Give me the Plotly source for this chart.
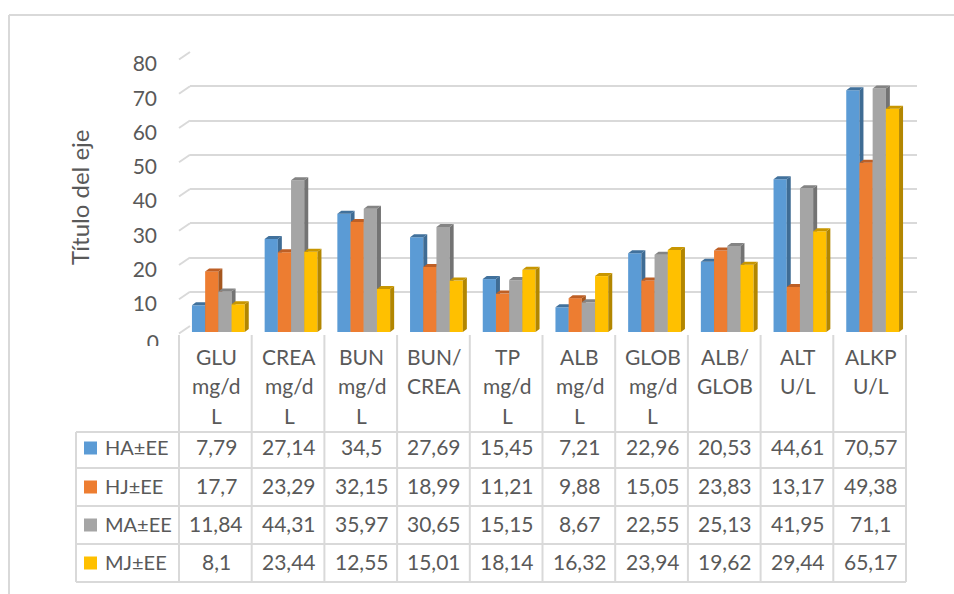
import plotly.graph_objects as go

categories = ["GLU\nmg/d\nL", "CREA\nmg/d\nL", "BUN\nmg/d\nL", "BUN/\nCREA", "TP\nmg/d\nL",
              "ALB\nmg/d\nL", "GLOB\nmg/d\nL", "ALB/\nGLOB", "ALT\nU/L", "ALKP\nU/L"]
series_names = ["HA±EE", "HJ±EE", "MA±EE", "MJ±EE"]
ha = [7.79, 27.14, 34.5, 27.69, 15.45, 7.21, 22.96, 20.53, 44.61, 70.57]
hj = [17.7, 23.29, 32.15, 18.99, 11.21, 9.88, 15.05, 23.83, 13.17, 49.38]
ma = [11.84, 44.31, 35.97, 30.65, 15.15, 8.67, 22.55, 25.13, 41.95, 71.1]
mj = [8.1, 23.44, 12.55, 15.01, 18.14, 16.32, 23.94, 19.62, 29.44, 65.17]
series_values = [ha, hj, ma, mj]
y_ticks = [10, 20, 30, 40, 50, 60, 70, 80]
axis_title = "Título del eje"

front_colors = ["#5B9BD5", "#ED7D31", "#A5A5A5", "#FFC000"]
side_colors = ["#3F6C94", "#A5571F", "#737373", "#B28600"]
top_colors = ["#41719C", "#BE5F25", "#848484", "#C89600"]
TEXT = "#595959"
LINE = "#D9D9D9"
FONT = "Lato"
FS = 21

W, H = 954, 594


def px(x):
    return x / W


def py(y):
    return 1 - y / H


n = len(categories)
col_left, col_w = 179.0, 72.7
bar_w = 13.2 / col_w
dx = 4 / col_w
dy = 3 / (274 / 80)

fig = go.Figure()

# back wall grid axes
fig.add_trace(go.Scatter(x=[None], y=[None], xaxis="x", yaxis="y", showlegend=False))

for s, vals in enumerate(series_values):
    ax = s + 2
    xa, ya = f"x{ax}", f"y{ax}"
    fig.add_trace(go.Bar(x=list(range(n)), y=vals, width=bar_w, offset=(s - 2) * bar_w,
                         marker=dict(color=front_colors[s], line=dict(width=0)),
                         name=series_names[s], xaxis=xa, yaxis=ya, showlegend=False))
    tx, ty, sx, sy = [], [], [], []
    for i, v in enumerate(vals):
        x0 = i + (s - 2) * bar_w
        x1 = x0 + bar_w
        tx += [x0, x1, x1 + dx, x0 + dx, x0, None]
        ty += [v, v, v + dy, v + dy, v, None]
        sx += [x1, x1, x1 + dx, x1 + dx, x1, None]
        sy += [0, v, v + dy, dy, 0, None]
    fig.add_trace(go.Scatter(x=sx, y=sy, fill="toself", mode="none", fillcolor=side_colors[s],
                             xaxis=xa, yaxis=ya, showlegend=False, hoverinfo="skip"))
    fig.add_trace(go.Scatter(x=tx, y=ty, fill="toself", mode="none", fillcolor=top_colors[s],
                             xaxis=xa, yaxis=ya, showlegend=False, hoverinfo="skip"))

layout = dict(
    width=W, height=H, margin=dict(l=0, r=0, t=0, b=0, autoexpand=False),
    paper_bgcolor="white", plot_bgcolor="rgba(0,0,0,0)", barmode="overlay", showlegend=False,
    font=dict(family=FONT, size=FS, color=TEXT),
    xaxis=dict(domain=[px(190), px(917)], range=[0, 1], showticklabels=False, showgrid=False,
               zeroline=False, ticks=""),
    yaxis=dict(domain=[py(326), py(52)], range=[0, 80], tickmode="array", tickvals=y_ticks + [0],
               ticktext=[str(t) for t in y_ticks] + [""], showgrid=True, gridcolor=LINE, gridwidth=2,
               zeroline=False, ticks="", ticklabelstandoff=32, ticklabelshift=12,
               tickfont=dict(family=FONT, size=FS, color=TEXT)),
)
for s in range(4):
    ax = s + 2
    xd = dict(range=[-0.5, n - 0.5], showticklabels=False, showgrid=False, zeroline=False, ticks="")
    yd = dict(range=[0, 80], showgrid=False, zeroline=False, ticks="", showticklabels=False)
    if s == 0:
        xd["domain"] = [px(182), px(909)]
        yd["domain"] = [py(332), py(58)]
        yd.update(showticklabels=True, tickmode="array", tickvals=[0], ticktext=["0"],
                  ticklabelstandoff=22, ticklabelshift=11,
                  tickfont=dict(family=FONT, size=FS, color=TEXT))
    else:
        xd.update(overlaying="x2", matches="x2")
        yd.update(overlaying="y2", matches="y2")
    xd["anchor"] = f"y{ax}"
    yd["anchor"] = f"x{ax}"
    layout[f"xaxis{ax}"] = xd
    layout[f"yaxis{ax}"] = yd

shapes = []


def line(x0, y0, x1, y1, width=2, color=LINE, layer="below"):
    shapes.append(dict(type="line", xref="paper", yref="paper", x0=px(x0), y0=py(y0), x1=px(x1), y1=py(y1),
                       line=dict(color=color, width=width), layer=layer))


# outer frame
line(9, 15, 954, 15)
line(9, 15, 9, 594)

# wall stubs joining the axis to the back wall
for t in [0] + y_ticks:
    yb = 326 - t * 274 / 80
    line(179, yb + 7.5, 190, yb)

# table grid
col_x = [col_left + col_w * i for i in range(n + 1)]
row_y = [432, 468, 506, 544, 582]
for x in col_x:
    line(x, 335, x, 582)
line(76, 432, 76, 582)
for y in row_y:
    line(76, y, col_x[-1], y)

# mask clipping the lower part of the zero label
shapes.append(dict(type="rect", xref="paper", yref="paper", x0=px(130), x1=px(176), y0=py(346), y1=py(362),
                   fillcolor="white", line=dict(width=0), layer="above"))

# legend keys
row_c = [448, 487, 525, 563]
for s, yc in enumerate(row_c):
    shapes.append(dict(type="rect", xref="paper", yref="paper", x0=px(84), x1=px(97), y0=py(yc - 6.5), y1=py(yc + 6.5),
                       fillcolor=front_colors[s], line=dict(width=0), layer="below"))

annotations = []


def text(x, y, t, anchor="center", angle=0, size=FS):
    annotations.append(dict(xref="paper", yref="paper", x=px(x), y=py(y), text=t, showarrow=False,
                            xanchor=anchor, yanchor="middle", textangle=angle,
                            font=dict(family=FONT, size=size, color=TEXT)))


line_y = [356.5, 385.5, 415.5]
for i, c in enumerate(categories):
    xc = col_left + col_w * (i + 0.5) + 1
    for j, part in enumerate(c.split("\n")):
        text(xc, line_y[j], part)

for s, yc in enumerate(row_c):
    text(103, yc - 1.5, series_names[s], anchor="left", size=20)
    for i, v in enumerate(series_values[s]):
        text(col_left + col_w * (i + 0.5) + 1, yc - 1.5, str(v).replace(".", ","))

text(80, 198, axis_title, angle=-90, size=24)

layout["shapes"] = shapes
layout["annotations"] = annotations
fig.update_layout(**layout)
fig.write_html("out.html", config=dict(displayModeBar=False),
               post_script="document.body.style.margin='0';")
